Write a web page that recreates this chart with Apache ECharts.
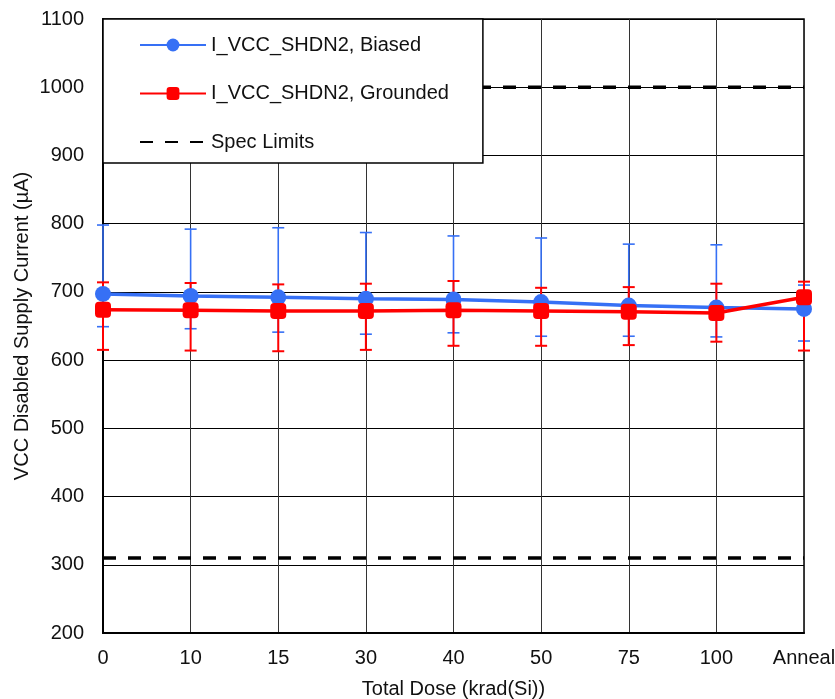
<!DOCTYPE html>
<html>
<head>
<meta charset="utf-8">
<script src="https://cdn.jsdelivr.net/npm/echarts@6/dist/echarts.min.js"></script>
<style>
html,body{margin:0;padding:0;background:#fff;}
#chart{width:835px;height:699px;}
</style>
</head>
<body>
<div id="chart"></div>
<script>
const categories = ['0', '10', '15', '30', '40', '50', '75', '100', 'Anneal'];
const yTicks = [200, 300, 400, 500, 600, 700, 800, 900, 1000, 1100];

const biased     = [697, 694, 692, 690, 689, 685, 680, 677, 675];
const biasedHigh = [798, 792, 794, 787, 782, 779, 770, 769, 710];
const biasedLow  = [649, 646, 641, 638, 640, 635, 635, 634, 628];

const grounded     = [674, 673, 672, 672, 673, 672, 671, 669, 692];
const groundedHigh = [714, 713, 711, 712, 716, 706, 707, 712, 715];
const groundedLow  = [615, 614, 613, 615, 621, 621, 622, 627, 614];

const specUpper = [1000, 1000, 1000, 1000, 1000, 1000, 1000, 1000, 1000];
const specLower = [310, 310, 310, 310, 310, 310, 310, 310, 310];

const nameBiased = 'I_VCC_SHDN2, Biased';
const nameGrounded = 'I_VCC_SHDN2, Grounded';
const nameSpec = 'Spec Limits';

const BLUE = '#3670F5';
const RED = '#FF0000';
const FONT = 'Liberation Sans, Arial, sans-serif';

function errRender(color, lw) {
  return function (params, api) {
    const i = api.value(0);
    const top = api.coord([i, api.value(1)]);
    const bot = api.coord([i, api.value(2)]);
    const w = 6;
    const st = { stroke: color, lineWidth: lw };
    return {
      type: 'group',
      children: [
        { type: 'line', shape: { x1: top[0], y1: top[1], x2: bot[0], y2: bot[1] }, style: st },
        { type: 'line', shape: { x1: top[0] - w, y1: top[1], x2: top[0] + w, y2: top[1] }, style: st },
        { type: 'line', shape: { x1: bot[0] - w, y1: bot[1], x2: bot[0] + w, y2: bot[1] }, style: st }
      ]
    };
  };
}

const chart = echarts.init(document.getElementById('chart'), null, { renderer: 'canvas' });
chart.setOption({
  animation: false,
  backgroundColor: '#fff',
  textStyle: { fontFamily: FONT },
  grid: {
    left: 103, right: 31, top: 19, bottom: 66,
    outerBoundsMode: 'none',
    containLabel: false,
    show: true, borderColor: '#000', borderWidth: 1.5, backgroundColor: 'transparent'
  },
  legend: {
    orient: 'vertical',
    left: 103, top: 19,
    data: [nameBiased, nameGrounded, { name: nameSpec, itemStyle: { opacity: 0 } }],
    itemWidth: 66, itemHeight: 16, itemGap: 28.5,
    padding: [16, 34, 11, 36],
    backgroundColor: '#fff',
    borderColor: '#000', borderWidth: 1.5,
    z: 20,
    textStyle: { fontFamily: FONT, fontSize: 20, color: '#111' }
  },
  xAxis: {
    type: 'category',
    data: categories,
    boundaryGap: false,
    name: 'Total Dose (krad(Si))',
    nameLocation: 'middle',
    nameGap: 46,
    nameMoveOverlap: false,
    nameTextStyle: { fontFamily: FONT, fontSize: 20, color: '#111' },
    axisLine: { lineStyle: { color: '#000', width: 2 } },
    axisTick: { show: false },
    axisLabel: { fontFamily: FONT, fontSize: 20, color: '#111', margin: 15 },
    splitLine: { show: true, lineStyle: { color: '#333', width: 1 } }
  },
  yAxis: {
    type: 'value',
    min: 200, max: 1100, interval: 100,
    name: 'VCC Disabled Supply Current (µA)',
    nameLocation: 'middle',
    nameGap: 71,
    nameMoveOverlap: false,
    nameTextStyle: { fontFamily: FONT, fontSize: 20, color: '#111' },
    axisLine: { show: true, lineStyle: { color: '#000', width: 2 } },
    axisTick: { show: false },
    axisLabel: {
      fontFamily: FONT, fontSize: 20, color: '#111', margin: 19,
      formatter: function (v) { return yTicks.indexOf(v) >= 0 ? String(v) : ''; }
    },
    splitLine: { show: true, lineStyle: { color: '#000', width: 1 } }
  },
  series: [
    {
      name: nameSpec, type: 'line', data: specUpper, symbol: 'none', z: 3,
      lineStyle: { color: '#000', width: 3.5, type: [13, 12] }, itemStyle: { color: '#000' }
    },
    {
      name: nameSpec, type: 'line', data: specLower, symbol: 'none', z: 3,
      lineStyle: { color: '#000', width: 3.5, type: [13, 12] }, itemStyle: { color: '#000' }
    },
    {
      name: 'biasedErr', type: 'custom', z: 4,
      renderItem: errRender(BLUE, 1.6),
      encode: { x: 0, y: [1, 2] },
      data: categories.map((c, i) => [i, biasedHigh[i], biasedLow[i]])
    },
    {
      name: 'groundedErr', type: 'custom', z: 5,
      renderItem: errRender(RED, 2),
      encode: { x: 0, y: [1, 2] },
      data: categories.map((c, i) => [i, groundedHigh[i], groundedLow[i]])
    },
    {
      name: nameBiased, type: 'line', data: biased, z: 6,
      symbol: 'circle', symbolSize: 16,
      lineStyle: { color: BLUE, width: 3.5 }, itemStyle: { color: BLUE }
    },
    {
      name: nameGrounded, type: 'line', data: grounded, z: 7,
      symbol: 'roundRect', symbolSize: 16,
      lineStyle: { color: RED, width: 3.5 }, itemStyle: { color: RED }
    }
  ]
});
</script>
</body>
</html>
